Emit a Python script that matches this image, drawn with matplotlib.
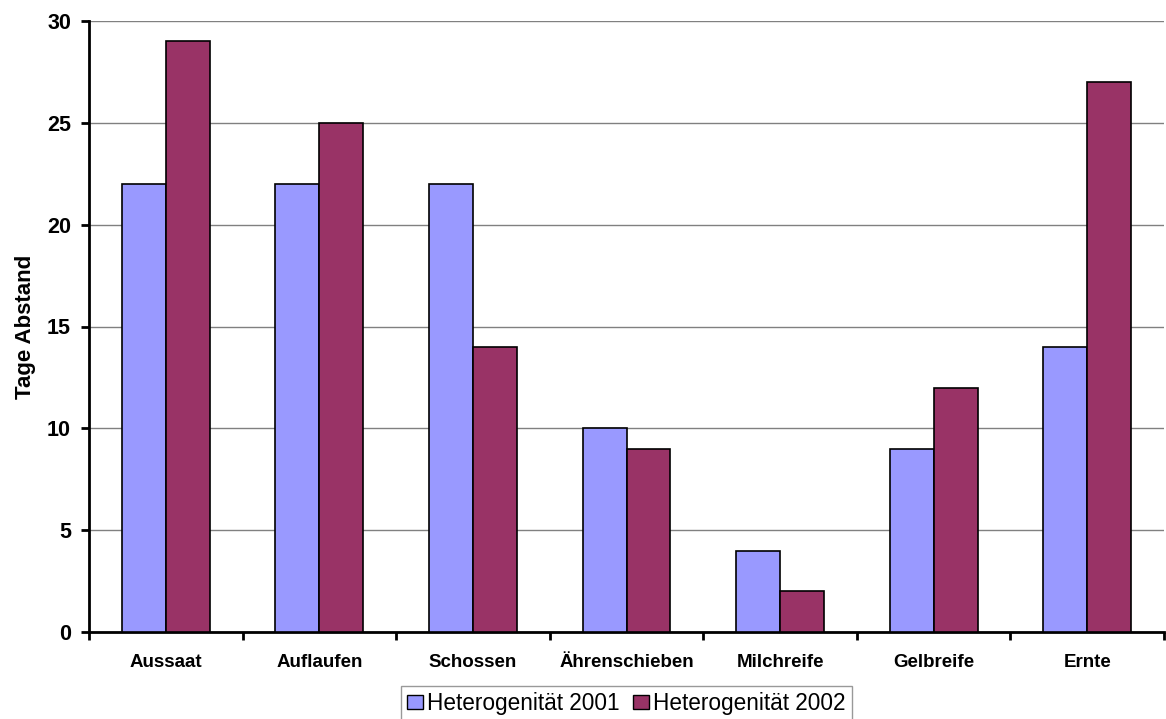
import matplotlib
matplotlib.use("Agg")
import matplotlib.pyplot as plt
import numpy as np

categories = ["Aussaat", "Auflaufen", "Schossen", "Ährenschieben", "Milchreife", "Gelbreife", "Ernte"]
het_2001 = [22, 22, 22, 10, 4, 9, 14]
het_2002 = [29, 25, 14, 9, 2, 12, 27]
series_labels = ["Heterogenität 2001", "Heterogenität 2002"]
yticks = [0, 5, 10, 15, 20, 25, 30]

plt.rcParams['font.family'] = ['Liberation Sans', 'DejaVu Sans']

fig = plt.figure(figsize=(11.66, 7.19), dpi=100)
ax = fig.add_axes([89 / 1166, 1 - 632 / 719, (1164 - 89) / 1166, (632 - 21) / 719])

x = np.arange(len(categories))
w = 0.286
ax.bar(x - w / 2, het_2001, w, color="#9999FF", edgecolor="black", linewidth=1.2,
       label=series_labels[0], zorder=3)
ax.bar(x + w / 2, het_2002, w, color="#993366", edgecolor="black", linewidth=1.2,
       label=series_labels[1], zorder=3)

ax.set_xlim(-0.5, len(categories) - 0.5)
ax.set_ylim(0, 30)
ax.set_yticks(yticks)
ax.set_yticklabels([str(v) for v in yticks], fontsize=15.5, fontweight="bold")
ax.yaxis.grid(True, color="#808080", linewidth=1.0, zorder=0)
ax.set_axisbelow(True)

# category labels centered, ticks on category boundaries
ax.set_xticks(x)
ax.set_xticklabels(categories, fontsize=13.5, fontweight="bold")
ax.tick_params(axis="x", which="major", length=0, pad=16)
ax.set_xticks(np.arange(-0.5, len(categories)), minor=True)
ax.tick_params(axis="x", which="minor", length=6, width=2, direction="out")
ax.tick_params(axis="y", length=6, width=2, direction="out", pad=7)

for side in ("top", "right"):
    ax.spines[side].set_visible(False)
ax.spines["left"].set_linewidth(2)
ax.spines["bottom"].set_linewidth(2)

ax.set_ylabel("Tage Abstand", fontsize=16, fontweight="bold", labelpad=8)

leg = ax.legend(loc="upper center", bbox_to_anchor=(0.5, -0.089), ncol=2, fontsize=16.3,
                frameon=True, fancybox=False, edgecolor="#808080", handlelength=0.72,
                handleheight=0.62, handletextpad=0.18, columnspacing=0.57,
                borderpad=0.25, borderaxespad=0)
leg.get_frame().set_linewidth(1.0)
for h in leg.legend_handles:
    h.set_edgecolor("black")
    h.set_linewidth(1.0)

fig.savefig("out.png", dpi=100, facecolor="white")
